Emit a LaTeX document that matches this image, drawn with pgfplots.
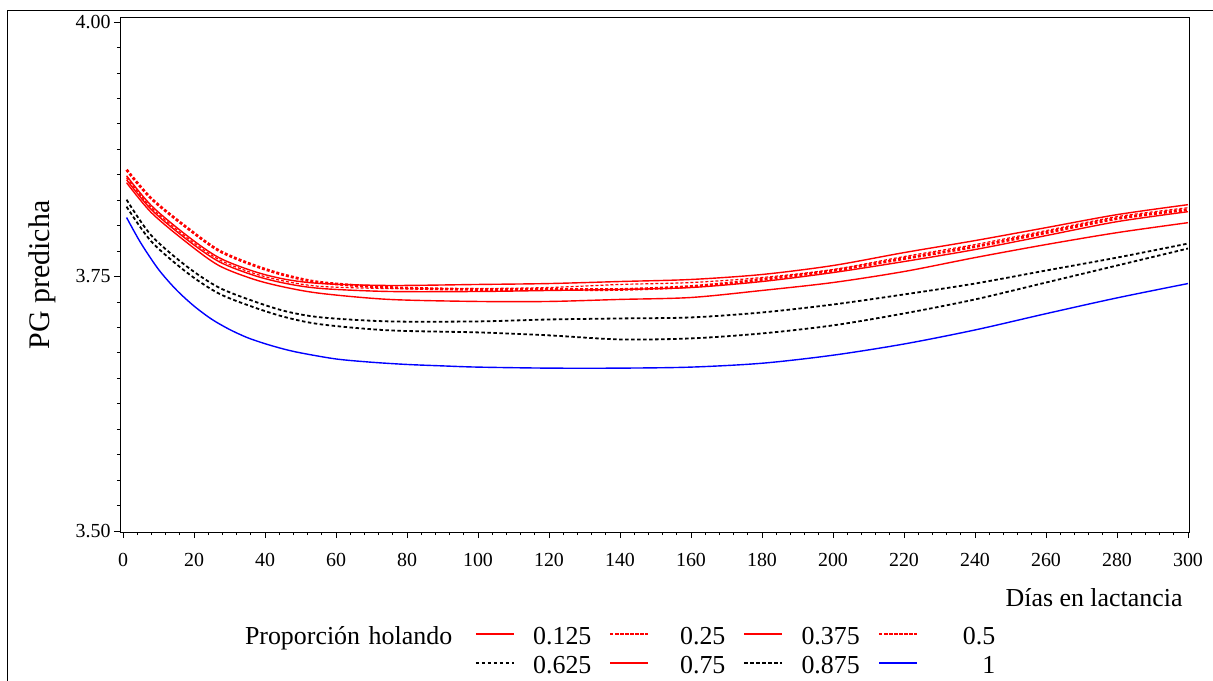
\documentclass[border=0pt]{standalone}
\usepackage{fontspec}
\setmainfont{Liberation Serif}
\usepackage{pgfplots}
\pgfplotsset{compat=1.18}
\definecolor{sasred}{RGB}{255,0,0}
\definecolor{sasblue}{RGB}{0,0,255}
\begin{document}
\begin{tikzpicture}
\draw[line width=1bp] (7bp,0bp) -- (7bp,670bp) -- (1213bp,670bp);
\begin{axis}[
  at={(120bp,149bp)}, anchor=south west,
  width=1070bp, height=514bp, scale only axis,
  xmin=-0.85, xmax=300.56, ymin=3.499, ymax=4.004,
  xtick={0,20,...,300}, ytick={3.5,3.75,4},
  minor x tick num=4, minor y tick num=9,
  tick align=outside, tick pos=left,
  major tick length=6bp, minor tick length=3bp,
  tick style={black, line width=0.8bp},
  axis line style={line width=1bp},
  /pgf/number format/assume math mode=true,
  yticklabel style={/pgf/number format/.cd, fixed, fixed zerofill, precision=2},
  xticklabel style={yshift=-12bp},
  ticklabel style={font=\fontsize{20}{24}\selectfont},
  xlabel={Días en lactancia}, ylabel={PG predicha},
  xlabel style={font=\fontsize{26}{30}\selectfont, at={(axis description cs:0.9963,-0.144)}, anchor=base east},
  ylabel style={font=\fontsize{30}{34}\selectfont, at={(axis description cs:-0.073,0.5)}, anchor=center},
  legend columns=5,
  legend style={draw=none, fill=none, at={(axis description cs:0.1,-0.1848)}, anchor=north west,
    inner sep=0pt, outer sep=0pt, column sep=18bp, row sep=5bp,
    font=\fontsize{26}{30}\selectfont,
    nodes={inner xsep=0pt, inner ysep=0pt, text height=18bp, text depth=6bp, text width=58.6bp, align=right}},
  legend image code/.code={\path (-6bp,5bp) -- (32bp,5bp); \draw[#1] (0bp,5bp) -- (32bp,5bp);},
]
\addlegendimage{empty legend}
\addlegendentry[text width=212bp, align=left]{Proporción holando}

% 0.125
\addplot[sasred, line width=1.4bp, smooth] table {
x y
1 3.8490
8 3.8196
18 3.7902
27 3.7686
37 3.7549
46 3.7471
56 3.7431
75 3.7412
100 3.7422
120 3.7431
140 3.7451
160 3.7471
180 3.7520
200 3.7608
220 3.7735
240 3.7853
260 3.7980
280 3.8108
300 3.8206
};
\addlegendentry{0.125}

% 0.25
\addplot[sasred, line width=1.2bp, dash pattern=on 3bp off 2bp, smooth] table {
x y
1 3.8471
8 3.8176
18 3.7882
27 3.7667
37 3.7529
46 3.7451
56 3.7402
75 3.7382
100 3.7382
120 3.7392
140 3.7422
160 3.7441
180 3.7490
200 3.7569
220 3.7696
240 3.7814
260 3.7951
280 3.8088
300 3.8176
};
\addlegendentry{0.25}

% 0.375
\addplot[sasred, line width=1.4bp, smooth] table {
x y
1 3.8451
8 3.8157
18 3.7863
27 3.7647
37 3.7510
46 3.7431
56 3.7382
75 3.7353
100 3.7353
120 3.7363
140 3.7373
160 3.7392
180 3.7451
200 3.7539
220 3.7647
240 3.7765
260 3.7902
280 3.8039
300 3.8137
};
\addlegendentry{0.375}

% 0.5
\addplot[sasred, line width=2.8bp, dash pattern=on 3bp off 2bp, smooth] table {
x y
1 3.8549
8 3.8265
18 3.7980
27 3.7755
37 3.7608
46 3.7510
56 3.7441
75 3.7392
100 3.7373
120 3.7373
140 3.7373
160 3.7402
180 3.7471
200 3.7559
220 3.7676
240 3.7794
260 3.7931
280 3.8069
300 3.8157
};
\addlegendentry{0.5}

\addlegendimage{empty legend}
\addlegendentry{}

% 0.625
\addplot[black, line width=1.8bp, dash pattern=on 3.5bp off 2.5bp, smooth] table {
x y
1 3.8255
8 3.7902
18 3.7598
27 3.7392
37 3.7255
46 3.7157
56 3.7098
75 3.7059
100 3.7059
120 3.7078
140 3.7088
160 3.7098
180 3.7147
200 3.7225
220 3.7324
240 3.7431
260 3.7559
280 3.7686
300 3.7824
};
\addlegendentry{0.625}

% 0.75
\addplot[sasred, line width=1.4bp, smooth] table {
x y
1 3.8422
8 3.8127
18 3.7833
27 3.7608
37 3.7471
46 3.7392
56 3.7333
75 3.7275
100 3.7255
120 3.7255
140 3.7275
160 3.7294
180 3.7363
200 3.7441
220 3.7549
240 3.7686
260 3.7814
280 3.7931
300 3.8029
};
\addlegendentry{0.75}

% 0.875
\addplot[black, line width=1.8bp, dash pattern=on 3.5bp off 2.5bp, smooth] table {
x y
1 3.8186
8 3.7843
18 3.7539
27 3.7333
37 3.7196
46 3.7098
56 3.7029
75 3.6971
100 3.6951
120 3.6922
140 3.6882
160 3.6892
180 3.6941
200 3.7020
220 3.7137
240 3.7275
260 3.7441
280 3.7608
300 3.7775
};
\addlegendentry{0.875}

% 1
\addplot[sasblue, line width=1.4bp, smooth] table {
x y
1 3.8080
5 3.7830
10 3.7570
15 3.7370
20 3.7210
25 3.7080
30 3.6980
35 3.6900
40 3.6840
45 3.6790
50 3.6750
60 3.6690
70 3.6658
80 3.6636
90 3.6622
100 3.6610
120 3.6600
140 3.6600
160 3.6610
180 3.6648
200 3.6727
220 3.6837
240 3.6975
260 3.7135
280 3.7290
300 3.7431
};
\addlegendentry{1}
\end{axis}
\pgfresetboundingbox
\path[use as bounding box] (0bp,0bp) rectangle (1213bp,681bp);
\end{tikzpicture}
\end{document}
